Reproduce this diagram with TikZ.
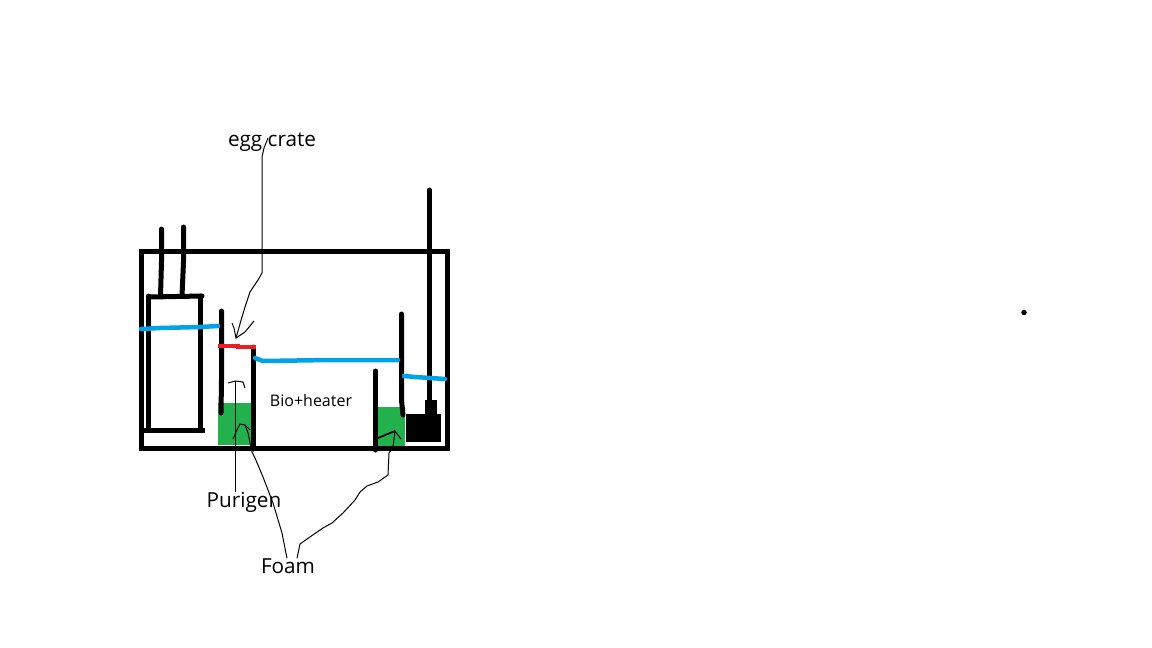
\documentclass[tikz,border=0pt]{standalone}
\usepackage{fontspec}
\usetikzlibrary{positioning}
\setmainfont{Open Sans}
\definecolor{waterblue}{HTML}{00A2E8}
\definecolor{foamgreen}{HTML}{22B14C}
\definecolor{crate}{HTML}{ED1C24}
\begin{document}
\begin{tikzpicture}[x=1pt, y=-1pt,
  wall/.style={draw, line width=5pt, line cap=round},
  water/.style={draw=waterblue, line width=4.5pt, line cap=round},
  foam/.style={fill=foamgreen},
  lead/.style={draw, line width=1pt},
  lbl/.style={inner sep=0pt, font=\fontsize{20.7}{24}\selectfont}]
\useasboundingbox (0,0) rectangle (1152,648);
% foam blocks
\node[foam, minimum width=33pt, minimum height=42pt, inner sep=0pt] (foamleft) at (234.5,424) {};
\node[foam, minimum width=27pt, minimum height=40pt, inner sep=0pt] (foamright) at (391.5,427) {};
% tank
\node[draw, line width=5.2pt, minimum width=306pt, minimum height=197pt, inner sep=0pt] (tank) at (294.7,349.8) {};
% overflow box and tubes
\draw[wall] (148.5,296) -- (148.5,430);
\draw[wall] (150,297) -- (202,296);
\draw[wall] (200.5,296) -- (200.5,430);
\draw[wall, line cap=butt] (144,430) -- (205,430);
\draw[wall] (161.5,229) -- (161.5,262) -- (160.5,296);
\draw[wall] (183.5,227) -- (183.5,262) -- (182,296);
% baffles
\draw[wall] (221.5,311) -- (221.5,380) -- (221,413);
\draw[wall] (253.5,347) -- (253.5,449);
\draw[wall] (375.5,371) -- (375.5,450);
\draw[wall] (401.5,314) -- (401.5,400) -- (403,415);
% pump
\node[fill=black, minimum width=35pt, minimum height=28pt, inner sep=0pt] (pump) at (423.5,428) {};
\node[fill=black, minimum width=12pt, minimum height=14pt, inner sep=0pt, above=0pt of pump.north, xshift=7.5pt] (pumphead) {};
\coordinate (pipetop) at (429.5,190);
\draw[wall] (pipetop) -- (pumphead.north -| pipetop);
% water levels
\draw[water] (141,329) -- (160,328) -- (200,327) -- (218,326);
\draw[water] (255,358) -- (263,361) -- (330,360) -- (398,360);
\draw[water] (404,376) -- (415,377) -- (445,379);
\draw[draw=crate, line width=4.5pt] (218,346) -- (238,346) -- (238,347) -- (256,347);
% stray dot
\node[circle, fill=black, minimum size=5.5pt, inner sep=0pt] (dot) at (1024,312.5) {};
% labels
\node[lbl] (egg) at (272,142) {egg crate};
\node[lbl, font=\fontsize{16}{19}\selectfont] (bio) at (311,400.5) {Bio+heater};
\node[lbl] (purigen) at (244,502.5) {Purigen};
\node[lbl] (foamlabel) at (288,566) {Foam};
% leaders
\coordinate (eggtip) at (236,338);
\coordinate (purigentip) at (235.5,381);
\coordinate (foamtipa) at (245,425);
\coordinate (foamtipb) at (395,431);
\draw[lead] (268,138) -- (264,148) -- (262,157) -- (262,273) -- (258,280) -- (250,292) -- (245,307) -- (242,317) -- (eggtip);
\draw[lead] (232,323) -- (234,328) -- (eggtip) -- (245,332) -- (254,321);
\draw[lead] (purigen.north -| purigentip) -- (purigentip);
\draw[lead] (228,383) -- (purigentip) -- (243,382) -- (245,388);
\draw[lead] ([xshift=-1pt]foamlabel.north) -- (282,533) -- (273,503) -- (263,477) -- (255,458) -- (252,452) -- (248,433) -- (foamtipa);
\draw[lead] (233,439) -- (237,430) -- (240,424) -- (foamtipa) -- (250,430);
\draw[lead] ([xshift=9pt]foamlabel.north) -- (300,544) -- (307,539) -- (323,528) -- (332,523) -- (343,513) -- (355,500) -- (360,492) -- (367,486) -- (378,482) -- (388,475) -- (389,453) -- (393,447) -- (foamtipb) -- (401,439);
\draw[lead, line width=1.8pt] (378,438) -- (foamtipb);
\end{tikzpicture}
\end{document}
